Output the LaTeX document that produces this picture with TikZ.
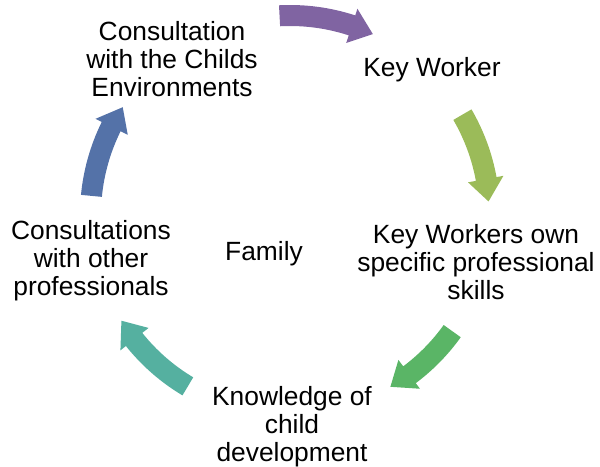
\documentclass[tikz,border=0pt]{standalone}
\usepackage{fontspec}
\setmainfont{Liberation Sans}
\definecolor{cpurple}{HTML}{8064A2}
\definecolor{cyg}{HTML}{9BBB59}
\definecolor{cgreen}{HTML}{5AB566}
\definecolor{cteal}{HTML}{55B0A0}
\definecolor{cblue}{HTML}{5472A8}
\newcommand\cycarrow[3]{%
  \fill[#1] (#2:210) arc[start angle=#2, end angle={#3+6.5}, radius=210]
    -- ({#3+6.5}:217) -- (#3:199) -- ({#3+6.5}:181) -- ({#3+6.5}:189)
    arc[start angle={#3+6.5}, end angle=#2, radius=189] -- cycle;}
\begin{document}
\begin{tikzpicture}[x=0.02cm,y=0.02cm,
  lbl/.style={align=center,inner sep=0pt,font=\fontsize{15}{15.9}\selectfont}]
\useasboundingbox (0,0) rectangle (600,467);
\begin{scope}[shift={(290,252)}]
  \cycarrow{cpurple}{93}{65.4}
  \cycarrow{cyg}{30.2}{3.9}
  \cycarrow{cgreen}{-35.6}{-59.7}
  \cycarrow{cteal}{-120.8}{-147.9}
  \cycarrow{cblue}{174.5}{147.2}
\end{scope}
\node[lbl] (env) at (172,408) {Consultation\\with the Childs\\Environments};
\node[lbl] (kw) at (432,397) {Key Worker};
\node[lbl] (skills) at (476,205) {Key Workers own\\specific professional\\skills};
\node[lbl] (know) at (292,40.5) {Knowledge of\\child\\development};
\node[lbl] (prof) at (91,206.5) {Consultations\\with other\\professionals};
\node[lbl] (fam) at (264,213.5) {Family};
\end{tikzpicture}
\end{document}
